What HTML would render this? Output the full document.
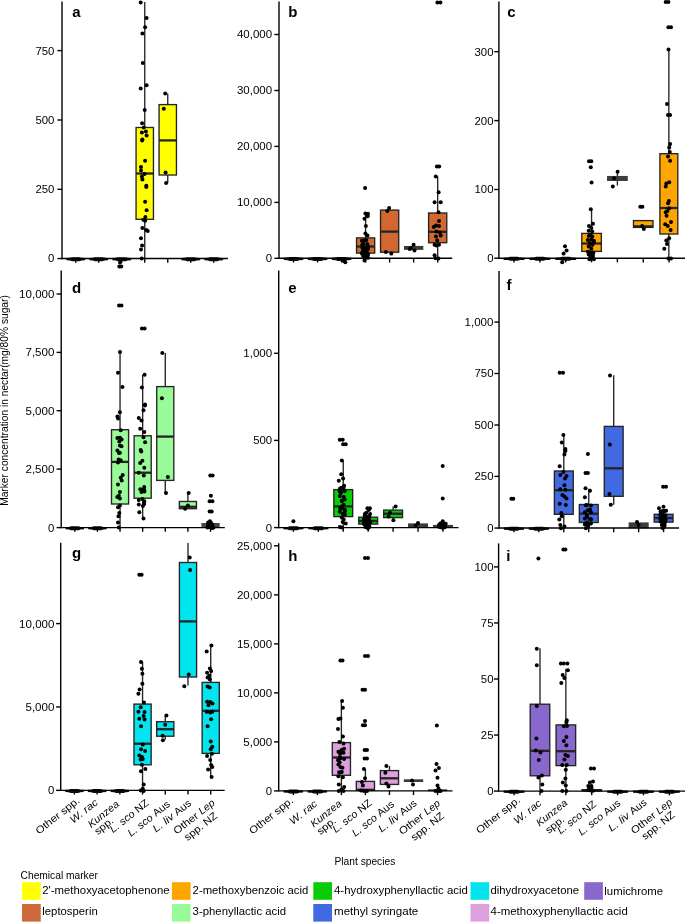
<!DOCTYPE html>
<html><head><meta charset="utf-8"><title>Chemical markers in nectar</title>
<style>html,body{margin:0;padding:0;background:#fff}svg{display:block;will-change:transform}text{font-family:"Liberation Sans",sans-serif;fill:#000}</style></head><body>
<svg width="685" height="922" viewBox="0 0 685 922">
<rect width="685" height="922" fill="#fff"/>
<line x1="144.75" x2="144.75" y1="2.1" y2="127.5" stroke="#242424" stroke-width="1.35"/>
<line x1="144.75" x2="144.75" y1="219.3" y2="258.5" stroke="#242424" stroke-width="1.35"/>
<rect x="136.06" y="127.5" width="17.39" height="91.8" fill="#FFFF00" stroke="#242424" stroke-width="1.35"/>
<line x1="136.06" x2="153.44" y1="173.5" y2="173.5" stroke="#242424" stroke-width="2.3"/>
<line x1="167.75" x2="167.75" y1="93.4" y2="104.6" stroke="#242424" stroke-width="1.35"/>
<line x1="167.75" x2="167.75" y1="175" y2="182.9" stroke="#242424" stroke-width="1.35"/>
<rect x="159.06" y="104.6" width="17.39" height="70.4" fill="#FFFF00" stroke="#242424" stroke-width="1.35"/>
<line x1="159.06" x2="176.44" y1="140.4" y2="140.4" stroke="#242424" stroke-width="2.3"/>
<polygon points="66.39,258.05 69.95,257.85 71.95,257.15 79.55,257.15 81.55,257.85 85.11,258.05 85.11,260.25 81.55,260.45 79.55,261.15 71.95,261.15 69.95,260.45 66.39,260.25" fill="#0a0a0a"/>
<polygon points="89.39,258.05 92.95,257.85 94.95,257.15 102.55,257.15 104.55,257.85 108.11,258.05 108.11,260.25 104.55,260.45 102.55,261.15 94.95,261.15 92.95,260.45 89.39,260.25" fill="#0a0a0a"/>
<polygon points="112.39,258.05 115.95,257.85 117.95,257.15 125.55,257.15 127.55,257.85 131.1,258.05 131.1,260.25 127.55,260.45 125.55,261.15 117.95,261.15 115.95,260.45 112.39,260.25" fill="#0a0a0a"/>
<polygon points="181.4,258.05 184.95,257.85 186.95,257.15 194.55,257.15 196.55,257.85 200.1,258.05 200.1,260.25 196.55,260.45 194.55,261.15 186.95,261.15 184.95,260.45 181.4,260.25" fill="#0a0a0a"/>
<polygon points="204.4,258.05 207.95,257.85 209.95,257.15 217.55,257.15 219.55,257.85 223.1,258.05 223.1,260.25 219.55,260.45 217.55,261.15 209.95,261.15 207.95,260.45 204.4,260.25" fill="#0a0a0a"/>
<line x1="62" x2="62" y1="1.5" y2="259.25" stroke="#000" stroke-width="1.4"/>
<line x1="62" x2="227.9" y1="258.55" y2="258.55" stroke="#000" stroke-width="1.4"/>
<line x1="57.4" x2="62" y1="50.6" y2="50.6" stroke="#000" stroke-width="1.4"/>
<text x="54.4" y="54.5" font-size="10.3" text-anchor="end" textLength="18.98" lengthAdjust="spacingAndGlyphs">750</text>
<line x1="57.4" x2="62" y1="120" y2="120" stroke="#000" stroke-width="1.4"/>
<text x="54.4" y="123.9" font-size="10.3" text-anchor="end" textLength="18.98" lengthAdjust="spacingAndGlyphs">500</text>
<line x1="57.4" x2="62" y1="189.3" y2="189.3" stroke="#000" stroke-width="1.4"/>
<text x="54.4" y="193.2" font-size="10.3" text-anchor="end" textLength="18.98" lengthAdjust="spacingAndGlyphs">250</text>
<line x1="57.4" x2="62" y1="258.55" y2="258.55" stroke="#000" stroke-width="1.4"/>
<text x="54.4" y="262.45" font-size="10.3" text-anchor="end" textLength="6.33" lengthAdjust="spacingAndGlyphs">0</text>
<line x1="75.75" x2="75.75" y1="258.55" y2="262.75" stroke="#000" stroke-width="1.4"/>
<line x1="98.75" x2="98.75" y1="258.55" y2="262.75" stroke="#000" stroke-width="1.4"/>
<line x1="121.75" x2="121.75" y1="258.55" y2="262.75" stroke="#000" stroke-width="1.4"/>
<line x1="144.75" x2="144.75" y1="258.55" y2="262.75" stroke="#000" stroke-width="1.4"/>
<line x1="167.75" x2="167.75" y1="258.55" y2="262.75" stroke="#000" stroke-width="1.4"/>
<line x1="190.75" x2="190.75" y1="258.55" y2="262.75" stroke="#000" stroke-width="1.4"/>
<line x1="213.75" x2="213.75" y1="258.55" y2="262.75" stroke="#000" stroke-width="1.4"/>
<circle cx="120" cy="262.6" r="2.0"/><circle cx="121.2" cy="266.4" r="2.0"/><circle cx="119.3" cy="266.4" r="2.0"/><circle cx="140.7" cy="2.6" r="2.0"/><circle cx="146.6" cy="18" r="2.0"/><circle cx="145.1" cy="27.2" r="2.0"/><circle cx="142.4" cy="33.6" r="2.0"/><circle cx="142.8" cy="63.1" r="2.0"/><circle cx="146.6" cy="85.3" r="2.0"/><circle cx="140.7" cy="88.5" r="2.0"/><circle cx="144.7" cy="110" r="2.0"/><circle cx="142.1" cy="123.2" r="2.0"/><circle cx="143.7" cy="127.4" r="2.0"/><circle cx="145.9" cy="131.4" r="2.0"/><circle cx="141.9" cy="132.6" r="2.0"/><circle cx="146.6" cy="135.4" r="2.0"/><circle cx="142.4" cy="139.6" r="2.0"/><circle cx="142.1" cy="140.5" r="2.0"/><circle cx="145.1" cy="160.8" r="2.0"/><circle cx="141" cy="167.1" r="2.0"/><circle cx="141" cy="170.6" r="2.0"/><circle cx="144.5" cy="174.1" r="2.0"/><circle cx="141.9" cy="176.6" r="2.0"/><circle cx="142.4" cy="179.6" r="2.0"/><circle cx="146.3" cy="185.7" r="2.0"/><circle cx="146.3" cy="187.1" r="2.0"/><circle cx="145.1" cy="201.8" r="2.0"/><circle cx="146.6" cy="210.2" r="2.0"/><circle cx="145.4" cy="217.1" r="2.0"/><circle cx="143.3" cy="219.7" r="2.0"/><circle cx="145.1" cy="220.7" r="2.0"/><circle cx="142.4" cy="228.1" r="2.0"/><circle cx="146.3" cy="229.9" r="2.0"/><circle cx="147.7" cy="231.1" r="2.0"/><circle cx="141" cy="238.3" r="2.0"/><circle cx="142.1" cy="245.6" r="2.0"/><circle cx="141" cy="249.5" r="2.0"/><circle cx="141.7" cy="258.4" r="2.0"/><circle cx="165.2" cy="93.4" r="2.0"/><circle cx="163.8" cy="108.8" r="2.0"/><circle cx="165.6" cy="172.6" r="2.0"/><circle cx="166.1" cy="182.9" r="2.0"/>
<text x="72.3" y="17.4" font-size="15" font-weight="bold">a</text>
<line x1="365.59" x2="365.59" y1="213.2" y2="237.9" stroke="#242424" stroke-width="1.35"/>
<line x1="365.59" x2="365.59" y1="253.1" y2="258.5" stroke="#242424" stroke-width="1.35"/>
<rect x="356.51" y="237.9" width="18.17" height="15.2" fill="#D2682F" stroke="#242424" stroke-width="1.35"/>
<line x1="356.51" x2="374.67" y1="246.5" y2="246.5" stroke="#242424" stroke-width="2.3"/>
<rect x="380.54" y="210.1" width="18.17" height="42.1" fill="#D2682F" stroke="#242424" stroke-width="1.35"/>
<line x1="380.54" x2="398.7" y1="231.6" y2="231.6" stroke="#242424" stroke-width="2.3"/>
<rect x="403.97" y="245.95" width="19.37" height="3.95" fill="#3c3c3c"/>
<line x1="437.68" x2="437.68" y1="176.4" y2="213" stroke="#242424" stroke-width="1.35"/>
<line x1="437.68" x2="437.68" y1="242.7" y2="258.5" stroke="#242424" stroke-width="1.35"/>
<rect x="428.6" y="213" width="18.17" height="29.7" fill="#D2682F" stroke="#242424" stroke-width="1.35"/>
<line x1="428.6" x2="446.76" y1="231.8" y2="231.8" stroke="#242424" stroke-width="2.3"/>
<polygon points="283.75,257.8 287.7,257.6 289.7,256.9 297.3,256.9 299.3,257.6 303.25,257.8 303.25,260 299.3,260.2 297.3,260.9 289.7,260.9 287.7,260.2 283.75,260" fill="#0a0a0a"/>
<polygon points="307.78,257.8 311.73,257.6 313.73,256.9 321.33,256.9 323.33,257.6 327.28,257.8 327.28,260 323.33,260.2 321.33,260.9 313.73,260.9 311.73,260.2 307.78,260" fill="#0a0a0a"/>
<polygon points="331.81,257.8 335.76,257.6 337.76,256.9 345.36,256.9 347.36,257.6 351.31,257.8 351.31,260 347.36,260.2 345.36,260.9 337.76,260.9 335.76,260.2 331.81,260" fill="#0a0a0a"/>
<line x1="279" x2="279" y1="1.5" y2="259" stroke="#000" stroke-width="1.4"/>
<line x1="279" x2="452.2" y1="258.3" y2="258.3" stroke="#000" stroke-width="1.4"/>
<line x1="274.4" x2="279" y1="34.5" y2="34.5" stroke="#000" stroke-width="1.4"/>
<text x="272.2" y="38.4" font-size="10.3" text-anchor="end" textLength="35.26" lengthAdjust="spacingAndGlyphs">40,000</text>
<line x1="274.4" x2="279" y1="90.5" y2="90.5" stroke="#000" stroke-width="1.4"/>
<text x="272.2" y="94.4" font-size="10.3" text-anchor="end" textLength="35.26" lengthAdjust="spacingAndGlyphs">30,000</text>
<line x1="274.4" x2="279" y1="146.4" y2="146.4" stroke="#000" stroke-width="1.4"/>
<text x="272.2" y="150.3" font-size="10.3" text-anchor="end" textLength="35.26" lengthAdjust="spacingAndGlyphs">20,000</text>
<line x1="274.4" x2="279" y1="202.4" y2="202.4" stroke="#000" stroke-width="1.4"/>
<text x="272.2" y="206.3" font-size="10.3" text-anchor="end" textLength="35.26" lengthAdjust="spacingAndGlyphs">10,000</text>
<line x1="274.4" x2="279" y1="258.3" y2="258.3" stroke="#000" stroke-width="1.4"/>
<text x="272.2" y="262.2" font-size="10.3" text-anchor="end" textLength="6.33" lengthAdjust="spacingAndGlyphs">0</text>
<line x1="293.5" x2="293.5" y1="258.3" y2="262.5" stroke="#000" stroke-width="1.4"/>
<line x1="317.53" x2="317.53" y1="258.3" y2="262.5" stroke="#000" stroke-width="1.4"/>
<line x1="341.56" x2="341.56" y1="258.3" y2="262.5" stroke="#000" stroke-width="1.4"/>
<line x1="365.59" x2="365.59" y1="258.3" y2="262.5" stroke="#000" stroke-width="1.4"/>
<line x1="389.62" x2="389.62" y1="258.3" y2="262.5" stroke="#000" stroke-width="1.4"/>
<line x1="413.65" x2="413.65" y1="258.3" y2="262.5" stroke="#000" stroke-width="1.4"/>
<line x1="437.68" x2="437.68" y1="258.3" y2="262.5" stroke="#000" stroke-width="1.4"/>
<circle cx="343.5" cy="260.8" r="2.0"/><circle cx="345.3" cy="262.3" r="2.0"/><circle cx="365.1" cy="188" r="2.0"/><circle cx="365.4" cy="213.6" r="2.0"/><circle cx="368" cy="213.7" r="2.0"/><circle cx="367.7" cy="216.2" r="2.0"/><circle cx="364.5" cy="218.8" r="2.0"/><circle cx="365.9" cy="226" r="2.0"/><circle cx="365.4" cy="233.4" r="2.0"/><circle cx="367.5" cy="235.6" r="2.0"/><circle cx="361.9" cy="240.7" r="2.0"/><circle cx="366.3" cy="240" r="2.0"/><circle cx="362.8" cy="244.8" r="2.0"/><circle cx="367.2" cy="243.9" r="2.0"/><circle cx="362.4" cy="247.7" r="2.0"/><circle cx="365.9" cy="248.3" r="2.0"/><circle cx="368" cy="249.1" r="2.0"/><circle cx="363.7" cy="250.9" r="2.0"/><circle cx="366.6" cy="251.8" r="2.0"/><circle cx="361.9" cy="253.5" r="2.0"/><circle cx="365.4" cy="254" r="2.0"/><circle cx="368" cy="254.4" r="2.0"/><circle cx="363.1" cy="256.1" r="2.0"/><circle cx="366.3" cy="256.5" r="2.0"/><circle cx="364.9" cy="258.4" r="2.0"/><circle cx="364.5" cy="260.5" r="2.0"/><circle cx="389.1" cy="208" r="2.0"/><circle cx="387.3" cy="211.1" r="2.0"/><circle cx="385.9" cy="251.9" r="2.0"/><circle cx="391.3" cy="253.5" r="2.0"/><circle cx="413.6" cy="244.8" r="2.0"/><circle cx="411" cy="248.3" r="2.0"/><circle cx="414.5" cy="250.5" r="2.0"/><circle cx="409.7" cy="249.1" r="2.0"/><circle cx="437.4" cy="2.5" r="2.0"/><circle cx="440.4" cy="2.5" r="2.0"/><circle cx="436.9" cy="166.4" r="2.0"/><circle cx="439.2" cy="166.4" r="2.0"/><circle cx="435.8" cy="176.4" r="2.0"/><circle cx="438.6" cy="192.2" r="2.0"/><circle cx="434.6" cy="202.2" r="2.0"/><circle cx="440.7" cy="202.2" r="2.0"/><circle cx="438.5" cy="212.3" r="2.0"/><circle cx="439" cy="221.1" r="2.0"/><circle cx="436" cy="225.5" r="2.0"/><circle cx="433.7" cy="226.9" r="2.0"/><circle cx="439" cy="226" r="2.0"/><circle cx="436.4" cy="231.6" r="2.0"/><circle cx="439.9" cy="232.5" r="2.0"/><circle cx="436" cy="236.5" r="2.0"/><circle cx="440.7" cy="235.6" r="2.0"/><circle cx="437.2" cy="240.4" r="2.0"/><circle cx="434.6" cy="244.8" r="2.0"/><circle cx="439" cy="244.8" r="2.0"/><circle cx="436.4" cy="245.6" r="2.0"/><circle cx="434.6" cy="255.3" r="2.0"/><circle cx="435.5" cy="258.2" r="2.0"/><circle cx="438.5" cy="258.4" r="2.0"/><circle cx="363.5" cy="249.3" r="2.0"/><circle cx="364.3" cy="240.5" r="2.0"/><circle cx="362.2" cy="245" r="2.0"/><circle cx="363.7" cy="252.5" r="2.0"/><circle cx="368.1" cy="248.1" r="2.0"/><circle cx="368" cy="257.8" r="2.0"/><circle cx="368.1" cy="246.6" r="2.0"/><circle cx="363.4" cy="244.1" r="2.0"/><circle cx="363.3" cy="243.7" r="2.0"/><circle cx="366" cy="256.2" r="2.0"/><circle cx="367.4" cy="248.6" r="2.0"/><circle cx="366.2" cy="254.4" r="2.0"/><circle cx="362.5" cy="251.9" r="2.0"/><circle cx="367.8" cy="254.1" r="2.0"/>
<text x="288.2" y="17.2" font-size="15" font-weight="bold">b</text>
<line x1="591.55" x2="591.55" y1="209.2" y2="233.4" stroke="#242424" stroke-width="1.35"/>
<line x1="591.55" x2="591.55" y1="251.4" y2="258.5" stroke="#242424" stroke-width="1.35"/>
<rect x="581.78" y="233.4" width="19.54" height="18" fill="#FFA500" stroke="#242424" stroke-width="1.35"/>
<line x1="581.78" x2="601.32" y1="243.5" y2="243.5" stroke="#242424" stroke-width="2.3"/>
<line x1="617.4" x2="617.4" y1="171.8" y2="175.95" stroke="#242424" stroke-width="1.35"/>
<line x1="617.4" x2="617.4" y1="181" y2="185.6" stroke="#242424" stroke-width="1.35"/>
<rect x="607.03" y="175.95" width="20.74" height="5.05" fill="#3c3c3c"/>
<rect x="633.48" y="220.6" width="19.54" height="6.8" fill="#FFA500" stroke="#242424" stroke-width="1.35"/>
<line x1="633.48" x2="653.02" y1="226.2" y2="226.2" stroke="#242424" stroke-width="2.0"/>
<line x1="668.85" x2="668.85" y1="49.4" y2="153.7" stroke="#242424" stroke-width="1.35"/>
<line x1="668.85" x2="668.85" y1="234" y2="258.5" stroke="#242424" stroke-width="1.35"/>
<rect x="659.9" y="153.7" width="17.9" height="80.3" fill="#FFA500" stroke="#242424" stroke-width="1.35"/>
<line x1="659.9" x2="677.8" y1="208" y2="208" stroke="#242424" stroke-width="2.3"/>
<polygon points="503.55,257.7 508.2,257.5 510.2,256.8 517.8,256.8 519.8,257.5 524.45,257.7 524.45,259.9 519.8,260.1 517.8,260.8 510.2,260.8 508.2,260.1 503.55,259.9" fill="#0a0a0a"/>
<polygon points="529.4,257.7 534.05,257.5 536.05,256.8 543.65,256.8 545.65,257.5 550.3,257.7 550.3,259.9 545.65,260.1 543.65,260.8 536.05,260.8 534.05,260.1 529.4,259.9" fill="#0a0a0a"/>
<polygon points="555.25,257.7 559.9,257.5 561.9,256.8 569.5,256.8 571.5,257.5 576.15,257.7 576.15,259.9 571.5,260.1 569.5,260.8 561.9,260.8 559.9,260.1 555.25,259.9" fill="#0a0a0a"/>
<line x1="498.9" x2="498.9" y1="1.5" y2="258.9" stroke="#000" stroke-width="1.4"/>
<line x1="498.9" x2="685" y1="258.2" y2="258.2" stroke="#000" stroke-width="1.4"/>
<line x1="494.3" x2="498.9" y1="51.7" y2="51.7" stroke="#000" stroke-width="1.4"/>
<text x="493.5" y="55.6" font-size="10.3" text-anchor="end" textLength="18.98" lengthAdjust="spacingAndGlyphs">300</text>
<line x1="494.3" x2="498.9" y1="120.6" y2="120.6" stroke="#000" stroke-width="1.4"/>
<text x="493.5" y="124.5" font-size="10.3" text-anchor="end" textLength="18.98" lengthAdjust="spacingAndGlyphs">200</text>
<line x1="494.3" x2="498.9" y1="189.5" y2="189.5" stroke="#000" stroke-width="1.4"/>
<text x="493.5" y="193.4" font-size="10.3" text-anchor="end" textLength="18.98" lengthAdjust="spacingAndGlyphs">100</text>
<line x1="494.3" x2="498.9" y1="258.2" y2="258.2" stroke="#000" stroke-width="1.4"/>
<text x="493.5" y="262.1" font-size="10.3" text-anchor="end" textLength="6.33" lengthAdjust="spacingAndGlyphs">0</text>
<line x1="514" x2="514" y1="258.2" y2="262.4" stroke="#000" stroke-width="1.4"/>
<line x1="539.85" x2="539.85" y1="258.2" y2="262.4" stroke="#000" stroke-width="1.4"/>
<line x1="565.7" x2="565.7" y1="258.2" y2="262.4" stroke="#000" stroke-width="1.4"/>
<line x1="591.55" x2="591.55" y1="258.2" y2="262.4" stroke="#000" stroke-width="1.4"/>
<line x1="617.4" x2="617.4" y1="258.2" y2="262.4" stroke="#000" stroke-width="1.4"/>
<line x1="643.25" x2="643.25" y1="258.2" y2="262.4" stroke="#000" stroke-width="1.4"/>
<line x1="669.1" x2="669.1" y1="258.2" y2="262.4" stroke="#000" stroke-width="1.4"/>
<circle cx="565" cy="246.2" r="2.0"/><circle cx="566.6" cy="250.5" r="2.0"/><circle cx="563.6" cy="253.5" r="2.0"/><circle cx="562.2" cy="262.3" r="2.0"/><circle cx="589" cy="161.2" r="2.0"/><circle cx="591.3" cy="161.2" r="2.0"/><circle cx="590.8" cy="167.3" r="2.0"/><circle cx="591.6" cy="182.4" r="2.0"/><circle cx="590.8" cy="209.2" r="2.0"/><circle cx="593" cy="223.7" r="2.0"/><circle cx="589" cy="226" r="2.0"/><circle cx="591.3" cy="228.1" r="2.0"/><circle cx="588.7" cy="230.7" r="2.0"/><circle cx="592.2" cy="231.6" r="2.0"/><circle cx="590.4" cy="234.8" r="2.0"/><circle cx="587.8" cy="240" r="2.0"/><circle cx="591.3" cy="239.5" r="2.0"/><circle cx="593.9" cy="240.7" r="2.0"/><circle cx="589.9" cy="243" r="2.0"/><circle cx="592.2" cy="244.8" r="2.0"/><circle cx="588.7" cy="246.5" r="2.0"/><circle cx="591.3" cy="248.8" r="2.0"/><circle cx="587.8" cy="251.8" r="2.0"/><circle cx="592.2" cy="252.6" r="2.0"/><circle cx="588.7" cy="254.4" r="2.0"/><circle cx="593" cy="256.1" r="2.0"/><circle cx="591.3" cy="258.4" r="2.0"/><circle cx="589.5" cy="259.3" r="2.0"/><circle cx="593.9" cy="259.3" r="2.0"/><circle cx="617.6" cy="171.7" r="2.0"/><circle cx="614.1" cy="178.2" r="2.0"/><circle cx="612.8" cy="186.4" r="2.0"/><circle cx="640.3" cy="206.7" r="2.0"/><circle cx="642.4" cy="206.7" r="2.0"/><circle cx="642.1" cy="226" r="2.0"/><circle cx="643.8" cy="229" r="2.0"/><circle cx="665.7" cy="2.1" r="2.0"/><circle cx="668.4" cy="2.1" r="2.0"/><circle cx="668.4" cy="27.2" r="2.0"/><circle cx="671" cy="27.2" r="2.0"/><circle cx="668.5" cy="49.4" r="2.0"/><circle cx="667" cy="104.1" r="2.0"/><circle cx="668" cy="115.1" r="2.0"/><circle cx="670.1" cy="115.1" r="2.0"/><circle cx="670.1" cy="144" r="2.0"/><circle cx="669.2" cy="147.5" r="2.0"/><circle cx="669.8" cy="151.9" r="2.0"/><circle cx="668" cy="156.6" r="2.0"/><circle cx="670.1" cy="160.7" r="2.0"/><circle cx="669.2" cy="182.2" r="2.0"/><circle cx="666.3" cy="183.4" r="2.0"/><circle cx="665.7" cy="186.4" r="2.0"/><circle cx="668.9" cy="201" r="2.0"/><circle cx="668" cy="203.2" r="2.0"/><circle cx="669.2" cy="208.3" r="2.0"/><circle cx="667.5" cy="210.9" r="2.0"/><circle cx="665.7" cy="212.3" r="2.0"/><circle cx="666.6" cy="215.8" r="2.0"/><circle cx="671" cy="222" r="2.0"/><circle cx="665.2" cy="224.3" r="2.0"/><circle cx="667.8" cy="226" r="2.0"/><circle cx="670.6" cy="229.9" r="2.0"/><circle cx="669.2" cy="238.3" r="2.0"/><circle cx="666.3" cy="240.4" r="2.0"/><circle cx="667" cy="243.9" r="2.0"/><circle cx="664.3" cy="248.8" r="2.0"/><circle cx="668.4" cy="258.4" r="2.0"/><circle cx="671" cy="258.4" r="2.0"/><circle cx="592.5" cy="244.4" r="2.0"/><circle cx="589.1" cy="252.5" r="2.0"/><circle cx="590" cy="252.8" r="2.0"/><circle cx="593.8" cy="242.3" r="2.0"/><circle cx="590.4" cy="256.6" r="2.0"/><circle cx="592.3" cy="236.4" r="2.0"/><circle cx="588.8" cy="235.9" r="2.0"/><circle cx="593.4" cy="253" r="2.0"/>
<text x="507.2" y="17.4" font-size="15" font-weight="bold">c</text>
<line x1="120.04" x2="120.04" y1="351.9" y2="429.7" stroke="#242424" stroke-width="1.35"/>
<line x1="120.04" x2="120.04" y1="504" y2="527.6" stroke="#242424" stroke-width="1.35"/>
<rect x="111.49" y="429.7" width="17.1" height="74.3" fill="#98FB98" stroke="#242424" stroke-width="1.35"/>
<line x1="111.49" x2="128.59" y1="461.9" y2="461.9" stroke="#242424" stroke-width="2.3"/>
<line x1="142.66" x2="142.66" y1="374.7" y2="435.8" stroke="#242424" stroke-width="1.35"/>
<line x1="142.66" x2="142.66" y1="498.2" y2="518.4" stroke="#242424" stroke-width="1.35"/>
<rect x="134.11" y="435.8" width="17.1" height="62.4" fill="#98FB98" stroke="#242424" stroke-width="1.35"/>
<line x1="134.11" x2="151.21" y1="472.7" y2="472.7" stroke="#242424" stroke-width="2.3"/>
<line x1="165.28" x2="165.28" y1="352.9" y2="386.6" stroke="#242424" stroke-width="1.35"/>
<line x1="165.28" x2="165.28" y1="480.4" y2="492.9" stroke="#242424" stroke-width="1.35"/>
<rect x="156.73" y="386.6" width="17.1" height="93.8" fill="#98FB98" stroke="#242424" stroke-width="1.35"/>
<line x1="156.73" x2="173.83" y1="436.6" y2="436.6" stroke="#242424" stroke-width="2.3"/>
<line x1="187.9" x2="187.9" y1="492.9" y2="501.5" stroke="#242424" stroke-width="1.35"/>
<rect x="179.35" y="501.5" width="17.1" height="7.2" fill="#98FB98" stroke="#242424" stroke-width="1.35"/>
<line x1="179.35" x2="196.45" y1="506.8" y2="506.8" stroke="#242424" stroke-width="2.3"/>
<rect x="201.37" y="523" width="18.3" height="4.8" fill="#474747"/>
<polygon points="65.59,527.1 69,526.9 71,526.2 78.6,526.2 80.6,526.9 84.01,527.1 84.01,529.3 80.6,529.5 78.6,530.2 71,530.2 69,529.5 65.59,529.3" fill="#0a0a0a"/>
<polygon points="88.21,527.1 91.62,526.9 93.62,526.2 101.22,526.2 103.22,526.9 106.63,527.1 106.63,529.3 103.22,529.5 101.22,530.2 93.62,530.2 91.62,529.5 88.21,529.3" fill="#0a0a0a"/>
<line x1="61.2" x2="61.2" y1="270.6" y2="528.3" stroke="#000" stroke-width="1.4"/>
<line x1="61.2" x2="224.8" y1="527.6" y2="527.6" stroke="#000" stroke-width="1.4"/>
<line x1="56.6" x2="61.2" y1="294" y2="294" stroke="#000" stroke-width="1.4"/>
<text x="54.4" y="297.9" font-size="10.3" text-anchor="end" textLength="35.26" lengthAdjust="spacingAndGlyphs">10,000</text>
<line x1="56.6" x2="61.2" y1="352.4" y2="352.4" stroke="#000" stroke-width="1.4"/>
<text x="54.4" y="356.3" font-size="10.3" text-anchor="end" textLength="28.93" lengthAdjust="spacingAndGlyphs">7,500</text>
<line x1="56.6" x2="61.2" y1="410.7" y2="410.7" stroke="#000" stroke-width="1.4"/>
<text x="54.4" y="414.6" font-size="10.3" text-anchor="end" textLength="28.93" lengthAdjust="spacingAndGlyphs">5,000</text>
<line x1="56.6" x2="61.2" y1="469.1" y2="469.1" stroke="#000" stroke-width="1.4"/>
<text x="54.4" y="473" font-size="10.3" text-anchor="end" textLength="28.93" lengthAdjust="spacingAndGlyphs">2,500</text>
<line x1="56.6" x2="61.2" y1="527.6" y2="527.6" stroke="#000" stroke-width="1.4"/>
<text x="54.4" y="531.5" font-size="10.3" text-anchor="end" textLength="6.33" lengthAdjust="spacingAndGlyphs">0</text>
<line x1="74.8" x2="74.8" y1="527.6" y2="531.8" stroke="#000" stroke-width="1.4"/>
<line x1="97.42" x2="97.42" y1="527.6" y2="531.8" stroke="#000" stroke-width="1.4"/>
<line x1="120.04" x2="120.04" y1="527.6" y2="531.8" stroke="#000" stroke-width="1.4"/>
<line x1="142.66" x2="142.66" y1="527.6" y2="531.8" stroke="#000" stroke-width="1.4"/>
<line x1="165.28" x2="165.28" y1="527.6" y2="531.8" stroke="#000" stroke-width="1.4"/>
<line x1="187.9" x2="187.9" y1="527.6" y2="531.8" stroke="#000" stroke-width="1.4"/>
<line x1="210.52" x2="210.52" y1="527.6" y2="531.8" stroke="#000" stroke-width="1.4"/>
<circle cx="119" cy="305.5" r="2.0"/><circle cx="121.5" cy="305.5" r="2.0"/><circle cx="120" cy="351.9" r="2.0"/><circle cx="118" cy="372.7" r="2.0"/><circle cx="122.5" cy="387" r="2.0"/><circle cx="119.9" cy="412.2" r="2.0"/><circle cx="117.4" cy="416.6" r="2.0"/><circle cx="118" cy="418.6" r="2.0"/><circle cx="120.7" cy="430.2" r="2.0"/><circle cx="117.4" cy="438" r="2.0"/><circle cx="121.6" cy="439.4" r="2.0"/><circle cx="119.3" cy="441.6" r="2.0"/><circle cx="117.4" cy="450.5" r="2.0"/><circle cx="119.9" cy="452.7" r="2.0"/><circle cx="120.7" cy="460.2" r="2.0"/><circle cx="118" cy="462.4" r="2.0"/><circle cx="122.7" cy="474.9" r="2.0"/><circle cx="120.7" cy="477.7" r="2.0"/><circle cx="118" cy="484.6" r="2.0"/><circle cx="119.9" cy="492.1" r="2.0"/><circle cx="118.8" cy="495.7" r="2.0"/><circle cx="119.9" cy="505.4" r="2.0"/><circle cx="118" cy="507.3" r="2.0"/><circle cx="119.3" cy="512.9" r="2.0"/><circle cx="118.5" cy="516.2" r="2.0"/><circle cx="118" cy="522.6" r="2.0"/><circle cx="118.8" cy="527.5" r="2.0"/><circle cx="141.9" cy="328.4" r="2.0"/><circle cx="144.6" cy="328.4" r="2.0"/><circle cx="144.6" cy="374.7" r="2.0"/><circle cx="141.9" cy="387.6" r="2.0"/><circle cx="145" cy="404.6" r="2.0"/><circle cx="144.9" cy="405.5" r="2.0"/><circle cx="143.5" cy="410.3" r="2.0"/><circle cx="138.8" cy="418" r="2.0"/><circle cx="141.5" cy="420.5" r="2.0"/><circle cx="140.2" cy="428.8" r="2.0"/><circle cx="144.3" cy="431.9" r="2.0"/><circle cx="143.5" cy="437.2" r="2.0"/><circle cx="145.1" cy="442.2" r="2.0"/><circle cx="140.7" cy="449.9" r="2.0"/><circle cx="142.4" cy="460.7" r="2.0"/><circle cx="140.2" cy="463" r="2.0"/><circle cx="144.3" cy="467.7" r="2.0"/><circle cx="138.8" cy="472.7" r="2.0"/><circle cx="143.8" cy="475.4" r="2.0"/><circle cx="144.3" cy="490.1" r="2.0"/><circle cx="141.5" cy="492.1" r="2.0"/><circle cx="142.4" cy="499" r="2.0"/><circle cx="138.8" cy="499.9" r="2.0"/><circle cx="144.3" cy="501.2" r="2.0"/><circle cx="138.8" cy="504.6" r="2.0"/><circle cx="142.9" cy="506" r="2.0"/><circle cx="139.3" cy="512.3" r="2.0"/><circle cx="143.5" cy="518.4" r="2.0"/><circle cx="162.3" cy="353.1" r="2.0"/><circle cx="161.9" cy="398.3" r="2.0"/><circle cx="167.9" cy="477.1" r="2.0"/><circle cx="166" cy="492.9" r="2.0"/><circle cx="188.7" cy="492.9" r="2.0"/><circle cx="187.9" cy="505.4" r="2.0"/><circle cx="185.1" cy="508.7" r="2.0"/><circle cx="210.3" cy="475.4" r="2.0"/><circle cx="212.6" cy="475.4" r="2.0"/><circle cx="210.9" cy="495.7" r="2.0"/><circle cx="209.6" cy="501.2" r="2.0"/><circle cx="212.4" cy="501.2" r="2.0"/><circle cx="209.6" cy="511.5" r="2.0"/><circle cx="211.7" cy="511.5" r="2.0"/><circle cx="210" cy="521.2" r="2.0"/><circle cx="208.1" cy="524" r="2.0"/><circle cx="212.3" cy="524.5" r="2.0"/><circle cx="209.5" cy="526.8" r="2.0"/><circle cx="207.5" cy="527.5" r="2.0"/><circle cx="213.5" cy="527.5" r="2.0"/><circle cx="211" cy="527.5" r="2.0"/><circle cx="208.3" cy="524.2" r="2.0"/><circle cx="207.8" cy="527.2" r="2.0"/><circle cx="211.1" cy="522.9" r="2.0"/><circle cx="209.1" cy="524.1" r="2.0"/><circle cx="209.7" cy="522.7" r="2.0"/><circle cx="212.5" cy="528" r="2.0"/><circle cx="210.3" cy="524.9" r="2.0"/><circle cx="208.2" cy="522.6" r="2.0"/><circle cx="119" cy="452.9" r="2.0"/><circle cx="121.5" cy="446.3" r="2.0"/><circle cx="117.3" cy="496.9" r="2.0"/><circle cx="119.9" cy="445.4" r="2.0"/><circle cx="120" cy="437.7" r="2.0"/><circle cx="119.9" cy="498.6" r="2.0"/><circle cx="121.7" cy="480.6" r="2.0"/><circle cx="118.6" cy="459.5" r="2.0"/><circle cx="140.3" cy="489.3" r="2.0"/><circle cx="142.5" cy="489.8" r="2.0"/><circle cx="141.3" cy="451.4" r="2.0"/><circle cx="144.2" cy="504" r="2.0"/><circle cx="144.4" cy="491.6" r="2.0"/><circle cx="144.2" cy="487.1" r="2.0"/>
<text x="72" y="292.6" font-size="15" font-weight="bold">d</text>
<line x1="343.26" x2="343.26" y1="460.5" y2="489.6" stroke="#242424" stroke-width="1.35"/>
<line x1="343.26" x2="343.26" y1="516.6" y2="527.6" stroke="#242424" stroke-width="1.35"/>
<rect x="333.84" y="489.6" width="18.85" height="27" fill="#08CC08" stroke="#242424" stroke-width="1.35"/>
<line x1="333.84" x2="352.68" y1="506.4" y2="506.4" stroke="#242424" stroke-width="2.3"/>
<rect x="358.77" y="517.2" width="18.85" height="6.9" fill="#08CC08" stroke="#242424" stroke-width="1.35"/>
<line x1="358.77" x2="377.61" y1="521" y2="521" stroke="#242424" stroke-width="2.3"/>
<line x1="393.12" x2="393.12" y1="506.4" y2="510.1" stroke="#242424" stroke-width="1.35"/>
<line x1="393.12" x2="393.12" y1="517.6" y2="520.2" stroke="#242424" stroke-width="1.35"/>
<rect x="383.7" y="510.1" width="18.85" height="7.5" fill="#08CC08" stroke="#242424" stroke-width="1.35"/>
<line x1="383.7" x2="402.54" y1="513.7" y2="513.7" stroke="#242424" stroke-width="2.3"/>
<rect x="408.03" y="523.4" width="20.05" height="4.2" fill="#3c3c3c"/>
<rect x="432.96" y="524.9" width="20.05" height="2.9" fill="#3c3c3c"/>
<polygon points="283.3,527.1 287.6,526.9 289.6,526.2 297.2,526.2 299.2,526.9 303.5,527.1 303.5,529.3 299.2,529.5 297.2,530.2 289.6,530.2 287.6,529.5 283.3,529.3" fill="#0a0a0a"/>
<polygon points="308.23,527.1 312.53,526.9 314.53,526.2 322.13,526.2 324.13,526.9 328.43,527.1 328.43,529.3 324.13,529.5 322.13,530.2 314.53,530.2 312.53,529.5 308.23,529.3" fill="#0a0a0a"/>
<line x1="278.7" x2="278.7" y1="270.6" y2="528.3" stroke="#000" stroke-width="1.4"/>
<line x1="278.7" x2="458.5" y1="527.6" y2="527.6" stroke="#000" stroke-width="1.4"/>
<line x1="274.1" x2="278.7" y1="353.3" y2="353.3" stroke="#000" stroke-width="1.4"/>
<text x="272.2" y="357.2" font-size="10.3" text-anchor="end" textLength="28.93" lengthAdjust="spacingAndGlyphs">1,000</text>
<line x1="274.1" x2="278.7" y1="440.4" y2="440.4" stroke="#000" stroke-width="1.4"/>
<text x="272.2" y="444.3" font-size="10.3" text-anchor="end" textLength="18.98" lengthAdjust="spacingAndGlyphs">500</text>
<line x1="274.1" x2="278.7" y1="527.6" y2="527.6" stroke="#000" stroke-width="1.4"/>
<text x="272.2" y="531.5" font-size="10.3" text-anchor="end" textLength="6.33" lengthAdjust="spacingAndGlyphs">0</text>
<line x1="293.4" x2="293.4" y1="527.6" y2="531.8" stroke="#000" stroke-width="1.4"/>
<line x1="318.33" x2="318.33" y1="527.6" y2="531.8" stroke="#000" stroke-width="1.4"/>
<line x1="343.26" x2="343.26" y1="527.6" y2="531.8" stroke="#000" stroke-width="1.4"/>
<line x1="368.19" x2="368.19" y1="527.6" y2="531.8" stroke="#000" stroke-width="1.4"/>
<line x1="393.12" x2="393.12" y1="527.6" y2="531.8" stroke="#000" stroke-width="1.4"/>
<line x1="418.05" x2="418.05" y1="527.6" y2="531.8" stroke="#000" stroke-width="1.4"/>
<line x1="442.98" x2="442.98" y1="527.6" y2="531.8" stroke="#000" stroke-width="1.4"/>
<circle cx="293.4" cy="521.3" r="2.0"/><circle cx="339.8" cy="439.8" r="2.0"/><circle cx="342.7" cy="439.8" r="2.0"/><circle cx="343.1" cy="444.3" r="2.0"/><circle cx="345.7" cy="444.3" r="2.0"/><circle cx="341.8" cy="460.5" r="2.0"/><circle cx="341.2" cy="474.3" r="2.0"/><circle cx="343.1" cy="478.6" r="2.0"/><circle cx="338.8" cy="480.8" r="2.0"/><circle cx="344.1" cy="485.7" r="2.0"/><circle cx="341.8" cy="487.7" r="2.0"/><circle cx="344.7" cy="491" r="2.0"/><circle cx="340.8" cy="493" r="2.0"/><circle cx="339.8" cy="495.9" r="2.0"/><circle cx="343.7" cy="496.9" r="2.0"/><circle cx="341.8" cy="500.9" r="2.0"/><circle cx="344.7" cy="499.5" r="2.0"/><circle cx="343.7" cy="504.8" r="2.0"/><circle cx="340.8" cy="507.8" r="2.0"/><circle cx="344.7" cy="509.7" r="2.0"/><circle cx="339.8" cy="511.7" r="2.0"/><circle cx="342.7" cy="513.7" r="2.0"/><circle cx="341.8" cy="517.6" r="2.0"/><circle cx="343.7" cy="519.6" r="2.0"/><circle cx="342.7" cy="522" r="2.0"/><circle cx="345.7" cy="523.5" r="2.0"/><circle cx="339.8" cy="527.1" r="2.0"/><circle cx="341.8" cy="527.5" r="2.0"/><circle cx="367.4" cy="508.2" r="2.0"/><circle cx="369.9" cy="508.2" r="2.0"/><circle cx="368.8" cy="510.1" r="2.0"/><circle cx="366.4" cy="512.7" r="2.0"/><circle cx="365.4" cy="515.7" r="2.0"/><circle cx="367.4" cy="517.6" r="2.0"/><circle cx="364.4" cy="519.6" r="2.0"/><circle cx="369.3" cy="520.6" r="2.0"/><circle cx="366.4" cy="522" r="2.0"/><circle cx="370.3" cy="522.6" r="2.0"/><circle cx="364.4" cy="523.5" r="2.0"/><circle cx="367.4" cy="524.5" r="2.0"/><circle cx="369.3" cy="525.9" r="2.0"/><circle cx="365.4" cy="527.1" r="2.0"/><circle cx="368" cy="527.9" r="2.0"/><circle cx="395.6" cy="506.4" r="2.0"/><circle cx="390" cy="512.7" r="2.0"/><circle cx="388.5" cy="516.6" r="2.0"/><circle cx="393.4" cy="520.2" r="2.0"/><circle cx="418" cy="523.1" r="2.0"/><circle cx="415.7" cy="525.5" r="2.0"/><circle cx="442.7" cy="466" r="2.0"/><circle cx="442.7" cy="498.5" r="2.0"/><circle cx="442.7" cy="521.2" r="2.0"/><circle cx="440.3" cy="523.5" r="2.0"/><circle cx="444.2" cy="524.1" r="2.0"/><circle cx="441.3" cy="525.9" r="2.0"/><circle cx="445.2" cy="526.5" r="2.0"/><circle cx="439.3" cy="527.1" r="2.0"/><circle cx="443.2" cy="527.5" r="2.0"/><circle cx="365.4" cy="521.2" r="2.0"/><circle cx="367.2" cy="526" r="2.0"/><circle cx="368.5" cy="516.6" r="2.0"/><circle cx="370.1" cy="513.9" r="2.0"/><circle cx="366.5" cy="524.1" r="2.0"/><circle cx="364.8" cy="519.8" r="2.0"/><circle cx="364.1" cy="522.7" r="2.0"/><circle cx="368.7" cy="521.2" r="2.0"/><circle cx="369.4" cy="517" r="2.0"/><circle cx="368.2" cy="521.5" r="2.0"/><circle cx="367.5" cy="519.3" r="2.0"/><circle cx="369.2" cy="527.1" r="2.0"/><circle cx="366.8" cy="522.6" r="2.0"/><circle cx="364.2" cy="523.2" r="2.0"/><circle cx="367.9" cy="527.9" r="2.0"/><circle cx="369.1" cy="516.6" r="2.0"/><circle cx="366.3" cy="522.7" r="2.0"/><circle cx="363.9" cy="519.4" r="2.0"/><circle cx="364.9" cy="513.9" r="2.0"/><circle cx="364.2" cy="524.3" r="2.0"/><circle cx="364.6" cy="516" r="2.0"/><circle cx="366.3" cy="525.9" r="2.0"/><circle cx="439.6" cy="525.2" r="2.0"/><circle cx="442.8" cy="527.4" r="2.0"/><circle cx="444.7" cy="527.3" r="2.0"/><circle cx="440.9" cy="525.1" r="2.0"/><circle cx="441.5" cy="527.4" r="2.0"/><circle cx="445.7" cy="523.8" r="2.0"/><circle cx="440.2" cy="524.2" r="2.0"/><circle cx="440.6" cy="525.4" r="2.0"/><circle cx="443.1" cy="524.3" r="2.0"/><circle cx="439" cy="525.1" r="2.0"/><circle cx="341.8" cy="506.4" r="2.0"/><circle cx="345" cy="510.9" r="2.0"/><circle cx="342.6" cy="508.2" r="2.0"/><circle cx="343.5" cy="487.9" r="2.0"/><circle cx="344.7" cy="514.1" r="2.0"/><circle cx="344.6" cy="514.7" r="2.0"/><circle cx="341.9" cy="500.4" r="2.0"/><circle cx="340.3" cy="508.8" r="2.0"/><circle cx="340" cy="488.4" r="2.0"/><circle cx="340.9" cy="491.8" r="2.0"/><circle cx="341.6" cy="487.9" r="2.0"/><circle cx="339.7" cy="491.4" r="2.0"/>
<text x="288.2" y="292.6" font-size="15" font-weight="bold">e</text>
<line x1="563.8" x2="563.8" y1="435" y2="471" stroke="#242424" stroke-width="1.35"/>
<line x1="563.8" x2="563.8" y1="514.3" y2="527.6" stroke="#242424" stroke-width="1.35"/>
<rect x="554.37" y="471" width="18.86" height="43.3" fill="#4169E1" stroke="#242424" stroke-width="1.35"/>
<line x1="554.37" x2="573.23" y1="490.2" y2="490.2" stroke="#242424" stroke-width="2.3"/>
<line x1="588.75" x2="588.75" y1="488.8" y2="504.5" stroke="#242424" stroke-width="1.35"/>
<line x1="588.75" x2="588.75" y1="522.5" y2="527.6" stroke="#242424" stroke-width="1.35"/>
<rect x="579.32" y="504.5" width="18.86" height="18" fill="#4169E1" stroke="#242424" stroke-width="1.35"/>
<line x1="579.32" x2="598.18" y1="513.7" y2="513.7" stroke="#242424" stroke-width="2.3"/>
<line x1="613.7" x2="613.7" y1="375.3" y2="426.4" stroke="#242424" stroke-width="1.35"/>
<line x1="613.7" x2="613.7" y1="496.3" y2="504.7" stroke="#242424" stroke-width="1.35"/>
<rect x="604.27" y="426.4" width="18.86" height="69.9" fill="#4169E1" stroke="#242424" stroke-width="1.35"/>
<line x1="604.27" x2="623.13" y1="468.3" y2="468.3" stroke="#242424" stroke-width="2.3"/>
<rect x="628.62" y="522.4" width="20.06" height="5.8" fill="#3c3c3c"/>
<line x1="663.6" x2="663.6" y1="510" y2="514.3" stroke="#242424" stroke-width="1.35"/>
<line x1="663.6" x2="663.6" y1="522.1" y2="527.6" stroke="#242424" stroke-width="1.35"/>
<rect x="654.17" y="514.3" width="18.86" height="7.8" fill="#4169E1" stroke="#242424" stroke-width="1.35"/>
<line x1="654.17" x2="673.03" y1="518" y2="518" stroke="#242424" stroke-width="2.3"/>
<polygon points="503.79,527.55 508.1,527.35 510.1,526.65 517.7,526.65 519.7,527.35 524.01,527.55 524.01,529.75 519.7,529.95 517.7,530.65 510.1,530.65 508.1,529.95 503.79,529.75" fill="#0a0a0a"/>
<polygon points="528.74,527.55 533.05,527.35 535.05,526.65 542.65,526.65 544.65,527.35 548.96,527.55 548.96,529.75 544.65,529.95 542.65,530.65 535.05,530.65 533.05,529.95 528.74,529.75" fill="#0a0a0a"/>
<line x1="499.05" x2="499.05" y1="270.9" y2="528.75" stroke="#000" stroke-width="1.4"/>
<line x1="499.05" x2="679.1" y1="528.05" y2="528.05" stroke="#000" stroke-width="1.4"/>
<line x1="494.45" x2="499.05" y1="322.1" y2="322.1" stroke="#000" stroke-width="1.4"/>
<text x="493.5" y="326" font-size="10.3" text-anchor="end" textLength="28.93" lengthAdjust="spacingAndGlyphs">1,000</text>
<line x1="494.45" x2="499.05" y1="373.5" y2="373.5" stroke="#000" stroke-width="1.4"/>
<text x="493.5" y="377.4" font-size="10.3" text-anchor="end" textLength="18.98" lengthAdjust="spacingAndGlyphs">750</text>
<line x1="494.45" x2="499.05" y1="425" y2="425" stroke="#000" stroke-width="1.4"/>
<text x="493.5" y="428.9" font-size="10.3" text-anchor="end" textLength="18.98" lengthAdjust="spacingAndGlyphs">500</text>
<line x1="494.45" x2="499.05" y1="476.4" y2="476.4" stroke="#000" stroke-width="1.4"/>
<text x="493.5" y="480.3" font-size="10.3" text-anchor="end" textLength="18.98" lengthAdjust="spacingAndGlyphs">250</text>
<line x1="494.45" x2="499.05" y1="528.05" y2="528.05" stroke="#000" stroke-width="1.4"/>
<text x="493.5" y="531.95" font-size="10.3" text-anchor="end" textLength="6.33" lengthAdjust="spacingAndGlyphs">0</text>
<line x1="513.9" x2="513.9" y1="528.05" y2="532.25" stroke="#000" stroke-width="1.4"/>
<line x1="538.85" x2="538.85" y1="528.05" y2="532.25" stroke="#000" stroke-width="1.4"/>
<line x1="563.8" x2="563.8" y1="528.05" y2="532.25" stroke="#000" stroke-width="1.4"/>
<line x1="588.75" x2="588.75" y1="528.05" y2="532.25" stroke="#000" stroke-width="1.4"/>
<line x1="613.7" x2="613.7" y1="528.05" y2="532.25" stroke="#000" stroke-width="1.4"/>
<line x1="638.65" x2="638.65" y1="528.05" y2="532.25" stroke="#000" stroke-width="1.4"/>
<line x1="663.6" x2="663.6" y1="528.05" y2="532.25" stroke="#000" stroke-width="1.4"/>
<circle cx="511.4" cy="498.7" r="2.0"/><circle cx="513.3" cy="498.7" r="2.0"/><circle cx="559.7" cy="372.7" r="2.0"/><circle cx="563" cy="372.7" r="2.0"/><circle cx="563.4" cy="435" r="2.0"/><circle cx="561.8" cy="442.4" r="2.0"/><circle cx="565.4" cy="448.9" r="2.0"/><circle cx="565.4" cy="450.9" r="2.0"/><circle cx="564.4" cy="454.4" r="2.0"/><circle cx="559.7" cy="466.3" r="2.0"/><circle cx="563.4" cy="472" r="2.0"/><circle cx="560.3" cy="474.9" r="2.0"/><circle cx="566.5" cy="476.1" r="2.0"/><circle cx="565" cy="478.5" r="2.0"/><circle cx="564.4" cy="485.3" r="2.0"/><circle cx="560.3" cy="489.2" r="2.0"/><circle cx="565.4" cy="489.8" r="2.0"/><circle cx="562.4" cy="494.9" r="2.0"/><circle cx="564.4" cy="496.5" r="2.0"/><circle cx="566.5" cy="498.6" r="2.0"/><circle cx="559.7" cy="503.7" r="2.0"/><circle cx="565.8" cy="505.1" r="2.0"/><circle cx="561.3" cy="512.9" r="2.0"/><circle cx="561.8" cy="516.3" r="2.0"/><circle cx="559.3" cy="519.4" r="2.0"/><circle cx="560.3" cy="525.1" r="2.0"/><circle cx="564.4" cy="526.6" r="2.0"/><circle cx="560.9" cy="528.2" r="2.0"/><circle cx="587.9" cy="454" r="2.0"/><circle cx="585.5" cy="473" r="2.0"/><circle cx="587.9" cy="473" r="2.0"/><circle cx="585.5" cy="488.3" r="2.0"/><circle cx="590" cy="490.8" r="2.0"/><circle cx="584.9" cy="497.3" r="2.0"/><circle cx="586.9" cy="505.1" r="2.0"/><circle cx="591" cy="505.5" r="2.0"/><circle cx="587.9" cy="510.2" r="2.0"/><circle cx="584.9" cy="512.3" r="2.0"/><circle cx="591" cy="512.3" r="2.0"/><circle cx="586.9" cy="515.3" r="2.0"/><circle cx="584.9" cy="518.4" r="2.0"/><circle cx="590" cy="519.4" r="2.0"/><circle cx="586.9" cy="522.5" r="2.0"/><circle cx="591" cy="523.5" r="2.0"/><circle cx="584.9" cy="524.5" r="2.0"/><circle cx="587.9" cy="526.6" r="2.0"/><circle cx="585.9" cy="528.2" r="2.0"/><circle cx="610" cy="375.5" r="2.0"/><circle cx="609.8" cy="444.4" r="2.0"/><circle cx="609.4" cy="493.9" r="2.0"/><circle cx="610.8" cy="504.7" r="2.0"/><circle cx="637" cy="522.1" r="2.0"/><circle cx="638.6" cy="525.1" r="2.0"/><circle cx="663.1" cy="486.7" r="2.0"/><circle cx="666" cy="486.7" r="2.0"/><circle cx="663.5" cy="506.7" r="2.0"/><circle cx="659" cy="508.2" r="2.0"/><circle cx="662.5" cy="511.2" r="2.0"/><circle cx="660.5" cy="515.3" r="2.0"/><circle cx="664.6" cy="515.7" r="2.0"/><circle cx="661.5" cy="518.4" r="2.0"/><circle cx="665.6" cy="519.4" r="2.0"/><circle cx="660.5" cy="521.5" r="2.0"/><circle cx="663.5" cy="522.5" r="2.0"/><circle cx="661.9" cy="525.1" r="2.0"/><circle cx="664.6" cy="525.5" r="2.0"/><circle cx="662.5" cy="528" r="2.0"/><circle cx="662.1" cy="512.7" r="2.0"/><circle cx="664.1" cy="511.3" r="2.0"/><circle cx="663.4" cy="516.6" r="2.0"/><circle cx="660.5" cy="519.1" r="2.0"/><circle cx="660.4" cy="517.8" r="2.0"/><circle cx="660.6" cy="511.6" r="2.0"/><circle cx="662.7" cy="524.9" r="2.0"/><circle cx="660.9" cy="514" r="2.0"/><circle cx="664" cy="527.1" r="2.0"/><circle cx="663.7" cy="517.1" r="2.0"/><circle cx="666.1" cy="510.8" r="2.0"/><circle cx="665.4" cy="515.2" r="2.0"/><circle cx="661.1" cy="512.1" r="2.0"/><circle cx="662.1" cy="524.7" r="2.0"/><circle cx="661.3" cy="520.5" r="2.0"/><circle cx="664" cy="516.7" r="2.0"/><circle cx="663.5" cy="511.1" r="2.0"/><circle cx="660.6" cy="513.7" r="2.0"/><circle cx="664.3" cy="517.7" r="2.0"/><circle cx="662.1" cy="520.5" r="2.0"/><circle cx="662.9" cy="515.4" r="2.0"/><circle cx="665" cy="522.6" r="2.0"/><circle cx="585.9" cy="523.2" r="2.0"/><circle cx="590.9" cy="519.5" r="2.0"/><circle cx="587.1" cy="517.1" r="2.0"/><circle cx="585.8" cy="505.3" r="2.0"/><circle cx="590.8" cy="519.3" r="2.0"/><circle cx="588.2" cy="525.5" r="2.0"/><circle cx="587.6" cy="524.2" r="2.0"/><circle cx="590" cy="509.6" r="2.0"/>
<text x="506.6" y="289.6" font-size="15" font-weight="bold">f</text>
<line x1="142.56" x2="142.56" y1="661.7" y2="704.1" stroke="#242424" stroke-width="1.35"/>
<line x1="142.56" x2="142.56" y1="764.8" y2="790.35" stroke="#242424" stroke-width="1.35"/>
<rect x="133.97" y="704.1" width="17.18" height="60.7" fill="#00E5EE" stroke="#242424" stroke-width="1.35"/>
<line x1="133.97" x2="151.15" y1="743.7" y2="743.7" stroke="#242424" stroke-width="2.3"/>
<line x1="165.28" x2="165.28" y1="715.7" y2="721.7" stroke="#242424" stroke-width="1.35"/>
<line x1="165.28" x2="165.28" y1="736.2" y2="739.7" stroke="#242424" stroke-width="1.35"/>
<rect x="156.69" y="721.7" width="17.18" height="14.5" fill="#00E5EE" stroke="#242424" stroke-width="1.35"/>
<line x1="156.69" x2="173.87" y1="729.2" y2="729.2" stroke="#242424" stroke-width="2.3"/>
<line x1="188" x2="188" y1="542.9" y2="562.5" stroke="#242424" stroke-width="1.35"/>
<line x1="188" x2="188" y1="677" y2="685.4" stroke="#242424" stroke-width="1.35"/>
<rect x="179.41" y="562.5" width="17.18" height="114.5" fill="#00E5EE" stroke="#242424" stroke-width="1.35"/>
<line x1="179.41" x2="196.59" y1="621.4" y2="621.4" stroke="#242424" stroke-width="2.3"/>
<line x1="210.72" x2="210.72" y1="645.4" y2="682.4" stroke="#242424" stroke-width="1.35"/>
<line x1="210.72" x2="210.72" y1="753.4" y2="777.4" stroke="#242424" stroke-width="1.35"/>
<rect x="202.13" y="682.4" width="17.18" height="71" fill="#00E5EE" stroke="#242424" stroke-width="1.35"/>
<line x1="202.13" x2="219.31" y1="710.8" y2="710.8" stroke="#242424" stroke-width="2.3"/>
<polygon points="65.15,789.85 68.6,789.65 70.6,788.95 78.2,788.95 80.2,789.65 83.65,789.85 83.65,792.05 80.2,792.25 78.2,792.95 70.6,792.95 68.6,792.25 65.15,792.05" fill="#0a0a0a"/>
<polygon points="87.87,789.85 91.32,789.65 93.32,788.95 100.92,788.95 102.92,789.65 106.37,789.85 106.37,792.05 102.92,792.25 100.92,792.95 93.32,792.95 91.32,792.25 87.87,792.05" fill="#0a0a0a"/>
<polygon points="110.59,789.85 114.04,789.65 116.04,788.95 123.64,788.95 125.64,789.65 129.09,789.85 129.09,792.05 125.64,792.25 123.64,792.95 116.04,792.95 114.04,792.25 110.59,792.05" fill="#0a0a0a"/>
<line x1="60.7" x2="60.7" y1="542.8" y2="791.05" stroke="#000" stroke-width="1.4"/>
<line x1="60.7" x2="224.7" y1="790.35" y2="790.35" stroke="#000" stroke-width="1.4"/>
<line x1="56.1" x2="60.7" y1="623.6" y2="623.6" stroke="#000" stroke-width="1.4"/>
<text x="54.4" y="627.5" font-size="10.3" text-anchor="end" textLength="35.26" lengthAdjust="spacingAndGlyphs">10,000</text>
<line x1="56.1" x2="60.7" y1="706.95" y2="706.95" stroke="#000" stroke-width="1.4"/>
<text x="54.4" y="710.85" font-size="10.3" text-anchor="end" textLength="28.93" lengthAdjust="spacingAndGlyphs">5,000</text>
<line x1="56.1" x2="60.7" y1="790.35" y2="790.35" stroke="#000" stroke-width="1.4"/>
<text x="54.4" y="794.25" font-size="10.3" text-anchor="end" textLength="6.33" lengthAdjust="spacingAndGlyphs">0</text>
<line x1="74.4" x2="74.4" y1="790.35" y2="794.55" stroke="#000" stroke-width="1.4"/>
<line x1="97.12" x2="97.12" y1="790.35" y2="794.55" stroke="#000" stroke-width="1.4"/>
<line x1="119.84" x2="119.84" y1="790.35" y2="794.55" stroke="#000" stroke-width="1.4"/>
<line x1="142.56" x2="142.56" y1="790.35" y2="794.55" stroke="#000" stroke-width="1.4"/>
<line x1="165.28" x2="165.28" y1="790.35" y2="794.55" stroke="#000" stroke-width="1.4"/>
<line x1="188" x2="188" y1="790.35" y2="794.55" stroke="#000" stroke-width="1.4"/>
<line x1="210.72" x2="210.72" y1="790.35" y2="794.55" stroke="#000" stroke-width="1.4"/>
<circle cx="139.3" cy="574.8" r="2.0"/><circle cx="141.6" cy="574.8" r="2.0"/><circle cx="141" cy="662.1" r="2.0"/><circle cx="141.9" cy="668.8" r="2.0"/><circle cx="142.4" cy="673.7" r="2.0"/><circle cx="142.4" cy="683.7" r="2.0"/><circle cx="139.6" cy="689.4" r="2.0"/><circle cx="138.4" cy="693.8" r="2.0"/><circle cx="144" cy="702.6" r="2.0"/><circle cx="140.7" cy="707.3" r="2.0"/><circle cx="138.4" cy="711.7" r="2.0"/><circle cx="144.5" cy="712" r="2.0"/><circle cx="143.7" cy="716.1" r="2.0"/><circle cx="139.3" cy="718.7" r="2.0"/><circle cx="144.5" cy="719.6" r="2.0"/><circle cx="141" cy="726.2" r="2.0"/><circle cx="142.8" cy="744.6" r="2.0"/><circle cx="141" cy="749.3" r="2.0"/><circle cx="145.1" cy="751.1" r="2.0"/><circle cx="139.3" cy="755.5" r="2.0"/><circle cx="141.9" cy="756.9" r="2.0"/><circle cx="140.7" cy="759.5" r="2.0"/><circle cx="142.8" cy="759" r="2.0"/><circle cx="141.9" cy="764.8" r="2.0"/><circle cx="145.4" cy="769.1" r="2.0"/><circle cx="141" cy="771.2" r="2.0"/><circle cx="143.7" cy="784.4" r="2.0"/><circle cx="142.8" cy="788.8" r="2.0"/><circle cx="140.7" cy="790.5" r="2.0"/><circle cx="143.7" cy="790.9" r="2.0"/><circle cx="166.4" cy="715.5" r="2.0"/><circle cx="165.2" cy="724.8" r="2.0"/><circle cx="162.6" cy="735.7" r="2.0"/><circle cx="162.9" cy="740.2" r="2.0"/><circle cx="189.7" cy="557.4" r="2.0"/><circle cx="190.1" cy="570" r="2.0"/><circle cx="188.7" cy="674.4" r="2.0"/><circle cx="184.3" cy="686.3" r="2.0"/><circle cx="211.4" cy="645.4" r="2.0"/><circle cx="206.7" cy="651.5" r="2.0"/><circle cx="209.9" cy="668.4" r="2.0"/><circle cx="211.1" cy="670.9" r="2.0"/><circle cx="207.1" cy="672.8" r="2.0"/><circle cx="209.3" cy="675.8" r="2.0"/><circle cx="207.6" cy="677.5" r="2.0"/><circle cx="209.9" cy="679.6" r="2.0"/><circle cx="207.6" cy="686.6" r="2.0"/><circle cx="209.7" cy="687.5" r="2.0"/><circle cx="207.1" cy="701.7" r="2.0"/><circle cx="210.2" cy="702" r="2.0"/><circle cx="212.5" cy="703.4" r="2.0"/><circle cx="208.5" cy="705.2" r="2.0"/><circle cx="206.7" cy="711.7" r="2.0"/><circle cx="210.2" cy="712.6" r="2.0"/><circle cx="212.3" cy="711.7" r="2.0"/><circle cx="211.1" cy="719.2" r="2.0"/><circle cx="207.6" cy="726.2" r="2.0"/><circle cx="210.7" cy="741.5" r="2.0"/><circle cx="212.3" cy="746.7" r="2.0"/><circle cx="210.7" cy="749.3" r="2.0"/><circle cx="212" cy="753.7" r="2.0"/><circle cx="207.1" cy="756" r="2.0"/><circle cx="210.2" cy="759.9" r="2.0"/><circle cx="211.1" cy="765.1" r="2.0"/><circle cx="212.3" cy="766.9" r="2.0"/><circle cx="208.1" cy="769.5" r="2.0"/><circle cx="211.6" cy="777" r="2.0"/>
<text x="72" y="558.2" font-size="15" font-weight="bold">g</text>
<line x1="341.38" x2="341.38" y1="700.7" y2="742.6" stroke="#242424" stroke-width="1.35"/>
<line x1="341.38" x2="341.38" y1="775.3" y2="790.35" stroke="#242424" stroke-width="1.35"/>
<rect x="332.29" y="742.6" width="18.17" height="32.7" fill="#DDA0DD" stroke="#242424" stroke-width="1.35"/>
<line x1="332.29" x2="350.47" y1="757.5" y2="757.5" stroke="#242424" stroke-width="2.3"/>
<line x1="365.42" x2="365.42" y1="769.1" y2="781.4" stroke="#242424" stroke-width="1.35"/>
<rect x="356.33" y="781.4" width="18.17" height="8.95" fill="#DDA0DD" stroke="#242424" stroke-width="1.35"/>
<line x1="356.33" x2="374.51" y1="789.8" y2="789.8" stroke="#242424" stroke-width="2.3"/>
<line x1="389.46" x2="389.46" y1="766" y2="770.6" stroke="#242424" stroke-width="1.35"/>
<line x1="389.46" x2="389.46" y1="784.4" y2="786.9" stroke="#242424" stroke-width="1.35"/>
<rect x="380.37" y="770.6" width="18.17" height="13.8" fill="#DDA0DD" stroke="#242424" stroke-width="1.35"/>
<line x1="380.37" x2="398.55" y1="778.3" y2="778.3" stroke="#242424" stroke-width="2.3"/>
<rect x="403.81" y="779.3" width="19.37" height="2.7" fill="#3c3c3c"/>
<rect x="427.85" y="789.4" width="19.37" height="1.8" fill="#222"/>
<polygon points="283.54,790.4 287.5,790.2 289.5,789.5 297.1,789.5 299.1,790.2 303.06,790.4 303.06,792.6 299.1,792.8 297.1,793.5 289.5,793.5 287.5,792.8 283.54,792.6" fill="#0a0a0a"/>
<polygon points="307.58,790.4 311.54,790.2 313.54,789.5 321.14,789.5 323.14,790.2 327.1,790.4 327.1,792.6 323.14,792.8 321.14,793.5 313.54,793.5 311.54,792.8 307.58,792.6" fill="#0a0a0a"/>
<line x1="278.7" x2="278.7" y1="543.2" y2="791.6" stroke="#000" stroke-width="1.4"/>
<line x1="278.7" x2="452.5" y1="790.9" y2="790.9" stroke="#000" stroke-width="1.4"/>
<line x1="274.1" x2="278.7" y1="545.8" y2="545.8" stroke="#000" stroke-width="1.4"/>
<text x="272.2" y="549.7" font-size="10.3" text-anchor="end" textLength="35.26" lengthAdjust="spacingAndGlyphs">25,000</text>
<line x1="274.1" x2="278.7" y1="594.85" y2="594.85" stroke="#000" stroke-width="1.4"/>
<text x="272.2" y="598.75" font-size="10.3" text-anchor="end" textLength="35.26" lengthAdjust="spacingAndGlyphs">20,000</text>
<line x1="274.1" x2="278.7" y1="643.9" y2="643.9" stroke="#000" stroke-width="1.4"/>
<text x="272.2" y="647.8" font-size="10.3" text-anchor="end" textLength="35.26" lengthAdjust="spacingAndGlyphs">15,000</text>
<line x1="274.1" x2="278.7" y1="692.9" y2="692.9" stroke="#000" stroke-width="1.4"/>
<text x="272.2" y="696.8" font-size="10.3" text-anchor="end" textLength="35.26" lengthAdjust="spacingAndGlyphs">10,000</text>
<line x1="274.1" x2="278.7" y1="741.9" y2="741.9" stroke="#000" stroke-width="1.4"/>
<text x="272.2" y="745.8" font-size="10.3" text-anchor="end" textLength="28.93" lengthAdjust="spacingAndGlyphs">5,000</text>
<line x1="274.1" x2="278.7" y1="790.9" y2="790.9" stroke="#000" stroke-width="1.4"/>
<text x="272.2" y="794.8" font-size="10.3" text-anchor="end" textLength="6.33" lengthAdjust="spacingAndGlyphs">0</text>
<line x1="293.3" x2="293.3" y1="790.9" y2="795.1" stroke="#000" stroke-width="1.4"/>
<line x1="317.34" x2="317.34" y1="790.9" y2="795.1" stroke="#000" stroke-width="1.4"/>
<line x1="341.38" x2="341.38" y1="790.9" y2="795.1" stroke="#000" stroke-width="1.4"/>
<line x1="365.42" x2="365.42" y1="790.9" y2="795.1" stroke="#000" stroke-width="1.4"/>
<line x1="389.46" x2="389.46" y1="790.9" y2="795.1" stroke="#000" stroke-width="1.4"/>
<line x1="413.5" x2="413.5" y1="790.9" y2="795.1" stroke="#000" stroke-width="1.4"/>
<line x1="437.54" x2="437.54" y1="790.9" y2="795.1" stroke="#000" stroke-width="1.4"/>
<circle cx="340.4" cy="660.6" r="2.0"/><circle cx="342.5" cy="660.6" r="2.0"/><circle cx="342.1" cy="701.1" r="2.0"/><circle cx="342.9" cy="707.8" r="2.0"/><circle cx="340.4" cy="718.6" r="2.0"/><circle cx="338.4" cy="719" r="2.0"/><circle cx="338" cy="728.9" r="2.0"/><circle cx="342.9" cy="736.4" r="2.0"/><circle cx="339.4" cy="741.9" r="2.0"/><circle cx="343.5" cy="743.6" r="2.0"/><circle cx="344.1" cy="748.7" r="2.0"/><circle cx="341.5" cy="750.1" r="2.0"/><circle cx="338.4" cy="751.7" r="2.0"/><circle cx="343.5" cy="752.8" r="2.0"/><circle cx="340.4" cy="753.4" r="2.0"/><circle cx="338" cy="759.9" r="2.0"/><circle cx="344.1" cy="758.9" r="2.0"/><circle cx="338.4" cy="764.4" r="2.0"/><circle cx="340.4" cy="767.1" r="2.0"/><circle cx="342.5" cy="767.7" r="2.0"/><circle cx="340.4" cy="772.6" r="2.0"/><circle cx="338.4" cy="776.3" r="2.0"/><circle cx="342.9" cy="777.3" r="2.0"/><circle cx="338.8" cy="784.4" r="2.0"/><circle cx="344.1" cy="786.9" r="2.0"/><circle cx="341.5" cy="789.6" r="2.0"/><circle cx="338.8" cy="791" r="2.0"/><circle cx="343.5" cy="791" r="2.0"/><circle cx="365" cy="558" r="2.0"/><circle cx="368" cy="558" r="2.0"/><circle cx="365" cy="656.1" r="2.0"/><circle cx="368" cy="656.1" r="2.0"/><circle cx="362.5" cy="689.8" r="2.0"/><circle cx="365" cy="689.8" r="2.0"/><circle cx="365" cy="721.1" r="2.0"/><circle cx="362.9" cy="725.2" r="2.0"/><circle cx="365" cy="725.2" r="2.0"/><circle cx="364.6" cy="750.1" r="2.0"/><circle cx="367" cy="750.1" r="2.0"/><circle cx="364.6" cy="758.5" r="2.0"/><circle cx="367" cy="758.5" r="2.0"/><circle cx="363.9" cy="769.1" r="2.0"/><circle cx="365" cy="778.3" r="2.0"/><circle cx="361.9" cy="782" r="2.0"/><circle cx="362.9" cy="785.5" r="2.0"/><circle cx="360.9" cy="790.6" r="2.0"/><circle cx="363.9" cy="791" r="2.0"/><circle cx="367" cy="791" r="2.0"/><circle cx="386.4" cy="766" r="2.0"/><circle cx="385.4" cy="772.8" r="2.0"/><circle cx="386.4" cy="783.4" r="2.0"/><circle cx="388.5" cy="786.5" r="2.0"/><circle cx="412" cy="780.4" r="2.0"/><circle cx="413" cy="784.4" r="2.0"/><circle cx="436.9" cy="725.6" r="2.0"/><circle cx="436.5" cy="764" r="2.0"/><circle cx="438.9" cy="768.1" r="2.0"/><circle cx="435.5" cy="770.6" r="2.0"/><circle cx="437.5" cy="777.7" r="2.0"/><circle cx="437.5" cy="785.5" r="2.0"/><circle cx="438.5" cy="788.5" r="2.0"/><circle cx="435.5" cy="791" r="2.0"/><circle cx="438.5" cy="791" r="2.0"/><circle cx="440.5" cy="791" r="2.0"/><circle cx="339.8" cy="753.1" r="2.0"/><circle cx="339.7" cy="762.2" r="2.0"/><circle cx="339.9" cy="757" r="2.0"/><circle cx="339.1" cy="772.2" r="2.0"/><circle cx="340.4" cy="758.2" r="2.0"/><circle cx="341.8" cy="772" r="2.0"/>
<text x="288.2" y="560.8" font-size="15" font-weight="bold">h</text>
<line x1="539.98" x2="539.98" y1="648.3" y2="704.2" stroke="#242424" stroke-width="1.35"/>
<line x1="539.98" x2="539.98" y1="775.8" y2="790.35" stroke="#242424" stroke-width="1.35"/>
<rect x="530.2" y="704.2" width="19.57" height="71.6" fill="#8968CD" stroke="#242424" stroke-width="1.35"/>
<line x1="530.2" x2="549.76" y1="750.8" y2="750.8" stroke="#242424" stroke-width="2.3"/>
<line x1="565.86" x2="565.86" y1="668.7" y2="724.9" stroke="#242424" stroke-width="1.35"/>
<line x1="565.86" x2="565.86" y1="765.6" y2="790.35" stroke="#242424" stroke-width="1.35"/>
<rect x="556.08" y="724.9" width="19.57" height="40.7" fill="#8968CD" stroke="#242424" stroke-width="1.35"/>
<line x1="556.08" x2="575.64" y1="751.2" y2="751.2" stroke="#242424" stroke-width="2.3"/>
<rect x="581.36" y="789" width="20.77" height="2.6" fill="#222"/>
<polygon points="503.64,790.6 508.3,790.4 510.3,789.7 517.9,789.7 519.9,790.4 524.56,790.6 524.56,792.8 519.9,793 517.9,793.7 510.3,793.7 508.3,793 503.64,792.8" fill="#0a0a0a"/>
<polygon points="607.16,790.6 611.82,790.4 613.82,789.7 621.42,789.7 623.42,790.4 628.08,790.6 628.08,792.8 623.42,793 621.42,793.7 613.82,793.7 611.82,793 607.16,792.8" fill="#0a0a0a"/>
<polygon points="633.04,790.6 637.7,790.4 639.7,789.7 647.3,789.7 649.3,790.4 653.96,790.6 653.96,792.8 649.3,793 647.3,793.7 639.7,793.7 637.7,793 633.04,792.8" fill="#0a0a0a"/>
<polygon points="658.92,790.6 663.58,790.4 665.58,789.7 673.18,789.7 675.18,790.4 679.84,790.6 679.84,792.8 675.18,793 673.18,793.7 665.58,793.7 663.58,793 658.92,792.8" fill="#0a0a0a"/>
<line x1="498.6" x2="498.6" y1="543.4" y2="791.8" stroke="#000" stroke-width="1.4"/>
<line x1="498.6" x2="685" y1="791.1" y2="791.1" stroke="#000" stroke-width="1.4"/>
<line x1="494" x2="498.6" y1="566.9" y2="566.9" stroke="#000" stroke-width="1.4"/>
<text x="493.5" y="570.8" font-size="10.3" text-anchor="end" textLength="18.98" lengthAdjust="spacingAndGlyphs">100</text>
<line x1="494" x2="498.6" y1="622.95" y2="622.95" stroke="#000" stroke-width="1.4"/>
<text x="493.5" y="626.85" font-size="10.3" text-anchor="end" textLength="12.66" lengthAdjust="spacingAndGlyphs">75</text>
<line x1="494" x2="498.6" y1="679" y2="679" stroke="#000" stroke-width="1.4"/>
<text x="493.5" y="682.9" font-size="10.3" text-anchor="end" textLength="12.66" lengthAdjust="spacingAndGlyphs">50</text>
<line x1="494" x2="498.6" y1="735.05" y2="735.05" stroke="#000" stroke-width="1.4"/>
<text x="493.5" y="738.95" font-size="10.3" text-anchor="end" textLength="12.66" lengthAdjust="spacingAndGlyphs">25</text>
<line x1="494" x2="498.6" y1="791.1" y2="791.1" stroke="#000" stroke-width="1.4"/>
<text x="493.5" y="795" font-size="10.3" text-anchor="end" textLength="6.33" lengthAdjust="spacingAndGlyphs">0</text>
<line x1="514.1" x2="514.1" y1="791.1" y2="795.3" stroke="#000" stroke-width="1.4"/>
<line x1="539.98" x2="539.98" y1="791.1" y2="795.3" stroke="#000" stroke-width="1.4"/>
<line x1="565.86" x2="565.86" y1="791.1" y2="795.3" stroke="#000" stroke-width="1.4"/>
<line x1="591.74" x2="591.74" y1="791.1" y2="795.3" stroke="#000" stroke-width="1.4"/>
<line x1="617.62" x2="617.62" y1="791.1" y2="795.3" stroke="#000" stroke-width="1.4"/>
<line x1="643.5" x2="643.5" y1="791.1" y2="795.3" stroke="#000" stroke-width="1.4"/>
<line x1="669.38" x2="669.38" y1="791.1" y2="795.3" stroke="#000" stroke-width="1.4"/>
<circle cx="538.4" cy="558.4" r="2.0"/><circle cx="536.8" cy="648.7" r="2.0"/><circle cx="536.8" cy="665.3" r="2.0"/><circle cx="536.8" cy="705.9" r="2.0"/><circle cx="536.4" cy="738.6" r="2.0"/><circle cx="535.8" cy="750.4" r="2.0"/><circle cx="540.5" cy="752.5" r="2.0"/><circle cx="538.8" cy="760" r="2.0"/><circle cx="541.9" cy="775.4" r="2.0"/><circle cx="538.4" cy="777.4" r="2.0"/><circle cx="542.3" cy="784.6" r="2.0"/><circle cx="541.5" cy="791" r="2.0"/><circle cx="563.4" cy="549.6" r="2.0"/><circle cx="565.4" cy="549.6" r="2.0"/><circle cx="560.9" cy="663.6" r="2.0"/><circle cx="563.8" cy="663.6" r="2.0"/><circle cx="567.4" cy="663.6" r="2.0"/><circle cx="567.9" cy="670.2" r="2.0"/><circle cx="562.7" cy="674.9" r="2.0"/><circle cx="564.4" cy="678" r="2.0"/><circle cx="561.3" cy="683" r="2.0"/><circle cx="566.8" cy="720.2" r="2.0"/><circle cx="566.4" cy="722.2" r="2.0"/><circle cx="563.8" cy="726.3" r="2.0"/><circle cx="567" cy="725.9" r="2.0"/><circle cx="566.4" cy="736.9" r="2.0"/><circle cx="563.8" cy="741" r="2.0"/><circle cx="566.4" cy="745.3" r="2.0"/><circle cx="565.4" cy="754.9" r="2.0"/><circle cx="567.9" cy="755.9" r="2.0"/><circle cx="564.4" cy="759.4" r="2.0"/><circle cx="562.3" cy="765.1" r="2.0"/><circle cx="566.8" cy="765.1" r="2.0"/><circle cx="565.8" cy="769.8" r="2.0"/><circle cx="565.4" cy="778.4" r="2.0"/><circle cx="562.9" cy="782.5" r="2.0"/><circle cx="565.8" cy="785.6" r="2.0"/><circle cx="562.3" cy="791" r="2.0"/><circle cx="566.4" cy="791" r="2.0"/><circle cx="590.9" cy="768.6" r="2.0"/><circle cx="594" cy="768.6" r="2.0"/><circle cx="593" cy="781.5" r="2.0"/><circle cx="589.9" cy="782.5" r="2.0"/><circle cx="588.3" cy="786" r="2.0"/><circle cx="591.4" cy="787.6" r="2.0"/><circle cx="588.9" cy="790.1" r="2.0"/><circle cx="593" cy="790.7" r="2.0"/><circle cx="590.8" cy="790.6" r="2.0"/><circle cx="591.3" cy="788.7" r="2.0"/><circle cx="591.4" cy="786.1" r="2.0"/><circle cx="590.9" cy="786.9" r="2.0"/><circle cx="588.3" cy="790" r="2.0"/><circle cx="589.3" cy="788.4" r="2.0"/>
<text x="506.2" y="560.8" font-size="15" font-weight="bold">i</text>
<g transform="translate(80.4,801.8) rotate(-38.5)">
<text x="-52.93" y="0" font-size="10.3" textLength="52.93" lengthAdjust="spacingAndGlyphs" xml:space="preserve">Other&#160;spp.</text>
</g>
<g transform="translate(98.62,803.6) rotate(-38.5)">
<text x="-32.38" y="0" font-size="10.3" font-style="italic" textLength="32.38" lengthAdjust="spacingAndGlyphs" xml:space="preserve">W.&#160;rac</text>
</g>
<g transform="translate(119.89,805.35) rotate(-38.5)">
<text x="-36.63" y="0" font-size="10.3" font-style="italic" textLength="36.63" lengthAdjust="spacingAndGlyphs" xml:space="preserve">Kunzea</text>
</g>
<g transform="translate(114.24,822) rotate(-38.5)">
<text x="-21.2" y="0" font-size="10.3" textLength="21.2" lengthAdjust="spacingAndGlyphs" xml:space="preserve">spp.</text>
</g>
<g transform="translate(149.56,804.15) rotate(-38.5)">
<text x="-46.83" y="0" font-size="10.3" font-style="italic" textLength="29.07" lengthAdjust="spacingAndGlyphs" xml:space="preserve">L.&#160;sco</text>
<text x="-17.76" y="0" font-size="10.3" textLength="17.76" lengthAdjust="spacingAndGlyphs" xml:space="preserve">&#160;NZ</text>
</g>
<g transform="translate(170.78,805.35) rotate(-38.5)">
<text x="-50.86" y="0" font-size="10.3" font-style="italic" textLength="29.07" lengthAdjust="spacingAndGlyphs" xml:space="preserve">L.&#160;sco</text>
<text x="-21.79" y="0" font-size="10.3" textLength="21.79" lengthAdjust="spacingAndGlyphs" xml:space="preserve">&#160;Aus</text>
</g>
<g transform="translate(191.9,804.35) rotate(-38.5)">
<text x="-45.8" y="0" font-size="10.3" font-style="italic" textLength="24.01" lengthAdjust="spacingAndGlyphs" xml:space="preserve">L.&#160;liv</text>
<text x="-21.79" y="0" font-size="10.3" textLength="21.79" lengthAdjust="spacingAndGlyphs" xml:space="preserve">&#160;Aus</text>
</g>
<g transform="translate(215.52,804.1) rotate(-38.5)">
<text x="-49.4" y="0" font-size="10.3" textLength="31.73" lengthAdjust="spacingAndGlyphs" xml:space="preserve">Other&#160;</text>
<text x="-17.67" y="0" font-size="10.3" font-style="italic" textLength="17.67" lengthAdjust="spacingAndGlyphs" xml:space="preserve">Lep</text>
</g>
<g transform="translate(218.02,817) rotate(-38.5)">
<text x="-38.96" y="0" font-size="10.3" textLength="38.96" lengthAdjust="spacingAndGlyphs" xml:space="preserve">spp.&#160;NZ</text>
</g>
<g transform="translate(294,801.8) rotate(-38.5)">
<text x="-52.93" y="0" font-size="10.3" textLength="52.93" lengthAdjust="spacingAndGlyphs" xml:space="preserve">Other&#160;spp.</text>
</g>
<g transform="translate(318.04,804.9) rotate(-38.5)">
<text x="-32.38" y="0" font-size="10.3" font-style="italic" textLength="32.38" lengthAdjust="spacingAndGlyphs" xml:space="preserve">W.&#160;rac</text>
</g>
<g transform="translate(342.43,804.85) rotate(-38.5)">
<text x="-36.63" y="0" font-size="10.3" font-style="italic" textLength="36.63" lengthAdjust="spacingAndGlyphs" xml:space="preserve">Kunzea</text>
</g>
<g transform="translate(336.78,822) rotate(-38.5)">
<text x="-21.2" y="0" font-size="10.3" textLength="21.2" lengthAdjust="spacingAndGlyphs" xml:space="preserve">spp.</text>
</g>
<g transform="translate(372.42,804.15) rotate(-38.5)">
<text x="-46.83" y="0" font-size="10.3" font-style="italic" textLength="29.07" lengthAdjust="spacingAndGlyphs" xml:space="preserve">L.&#160;sco</text>
<text x="-17.76" y="0" font-size="10.3" textLength="17.76" lengthAdjust="spacingAndGlyphs" xml:space="preserve">&#160;NZ</text>
</g>
<g transform="translate(394.96,805.35) rotate(-38.5)">
<text x="-50.86" y="0" font-size="10.3" font-style="italic" textLength="29.07" lengthAdjust="spacingAndGlyphs" xml:space="preserve">L.&#160;sco</text>
<text x="-21.79" y="0" font-size="10.3" textLength="21.79" lengthAdjust="spacingAndGlyphs" xml:space="preserve">&#160;Aus</text>
</g>
<g transform="translate(417.4,804.35) rotate(-38.5)">
<text x="-45.8" y="0" font-size="10.3" font-style="italic" textLength="24.01" lengthAdjust="spacingAndGlyphs" xml:space="preserve">L.&#160;liv</text>
<text x="-21.79" y="0" font-size="10.3" textLength="21.79" lengthAdjust="spacingAndGlyphs" xml:space="preserve">&#160;Aus</text>
</g>
<g transform="translate(440.84,804.6) rotate(-38.5)">
<text x="-49.4" y="0" font-size="10.3" textLength="31.73" lengthAdjust="spacingAndGlyphs" xml:space="preserve">Other&#160;</text>
<text x="-17.67" y="0" font-size="10.3" font-style="italic" textLength="17.67" lengthAdjust="spacingAndGlyphs" xml:space="preserve">Lep</text>
</g>
<g transform="translate(444.84,817) rotate(-38.5)">
<text x="-38.96" y="0" font-size="10.3" textLength="38.96" lengthAdjust="spacingAndGlyphs" xml:space="preserve">spp.&#160;NZ</text>
</g>
<g transform="translate(520.9,801.3) rotate(-38.5)">
<text x="-52.93" y="0" font-size="10.3" textLength="52.93" lengthAdjust="spacingAndGlyphs" xml:space="preserve">Other&#160;spp.</text>
</g>
<g transform="translate(542.28,804.4) rotate(-38.5)">
<text x="-32.38" y="0" font-size="10.3" font-style="italic" textLength="32.38" lengthAdjust="spacingAndGlyphs" xml:space="preserve">W.&#160;rac</text>
</g>
<g transform="translate(568.11,804.05) rotate(-38.5)">
<text x="-36.63" y="0" font-size="10.3" font-style="italic" textLength="36.63" lengthAdjust="spacingAndGlyphs" xml:space="preserve">Kunzea</text>
</g>
<g transform="translate(565.26,820.7) rotate(-38.5)">
<text x="-21.2" y="0" font-size="10.3" textLength="21.2" lengthAdjust="spacingAndGlyphs" xml:space="preserve">spp.</text>
</g>
<g transform="translate(597.14,805.35) rotate(-38.5)">
<text x="-46.83" y="0" font-size="10.3" font-style="italic" textLength="29.07" lengthAdjust="spacingAndGlyphs" xml:space="preserve">L.&#160;sco</text>
<text x="-17.76" y="0" font-size="10.3" textLength="17.76" lengthAdjust="spacingAndGlyphs" xml:space="preserve">&#160;NZ</text>
</g>
<g transform="translate(621.32,804.25) rotate(-38.5)">
<text x="-50.86" y="0" font-size="10.3" font-style="italic" textLength="29.07" lengthAdjust="spacingAndGlyphs" xml:space="preserve">L.&#160;sco</text>
<text x="-21.79" y="0" font-size="10.3" textLength="21.79" lengthAdjust="spacingAndGlyphs" xml:space="preserve">&#160;Aus</text>
</g>
<g transform="translate(647.4,803.55) rotate(-38.5)">
<text x="-45.8" y="0" font-size="10.3" font-style="italic" textLength="24.01" lengthAdjust="spacingAndGlyphs" xml:space="preserve">L.&#160;liv</text>
<text x="-21.79" y="0" font-size="10.3" textLength="21.79" lengthAdjust="spacingAndGlyphs" xml:space="preserve">&#160;Aus</text>
</g>
<g transform="translate(672.98,803.7) rotate(-38.5)">
<text x="-49.4" y="0" font-size="10.3" textLength="31.73" lengthAdjust="spacingAndGlyphs" xml:space="preserve">Other&#160;</text>
<text x="-17.67" y="0" font-size="10.3" font-style="italic" textLength="17.67" lengthAdjust="spacingAndGlyphs" xml:space="preserve">Lep</text>
</g>
<g transform="translate(675.58,815.9) rotate(-38.5)">
<text x="-38.96" y="0" font-size="10.3" textLength="38.96" lengthAdjust="spacingAndGlyphs" xml:space="preserve">spp.&#160;NZ</text>
</g>
<text transform="translate(8.4,400.5) rotate(-90)" text-anchor="middle" font-size="10.22">Marker concentration in nectar(mg/80% sugar)</text>
<text x="334.5" y="864.7" font-size="10.22">Plant species</text>
<text x="20.6" y="878.7" font-size="10.22">Chemical marker</text>
<rect x="22.05" y="882.2" width="18.7" height="17.6" fill="#FFFF00"/>
<text x="42.3" y="894" font-size="10.3"  textLength="127.22" lengthAdjust="spacingAndGlyphs">2'-methoxyacetophenone</text>
<rect x="22.05" y="904" width="18.7" height="17.6" fill="#CD6839"/>
<text x="42.3" y="915" font-size="10.3"  textLength="55.4" lengthAdjust="spacingAndGlyphs">leptosperin</text>
<rect x="171.9" y="882.2" width="18.7" height="17.6" fill="#FFA500"/>
<text x="192.6" y="894.16" font-size="10.3"  textLength="115.69" lengthAdjust="spacingAndGlyphs">2-methoxybenzoic acid</text>
<rect x="171.9" y="904" width="18.7" height="17.6" fill="#98FB98"/>
<text x="192.6" y="915.16" font-size="10.3"  textLength="93.5" lengthAdjust="spacingAndGlyphs">3-phenyllactic acid</text>
<rect x="313.3" y="882.2" width="18.7" height="17.6" fill="#08CC08"/>
<text x="334" y="894.31" font-size="10.3"  textLength="133.96" lengthAdjust="spacingAndGlyphs">4-hydroxyphenyllactic acid</text>
<rect x="313.3" y="904" width="18.7" height="17.6" fill="#4169E1"/>
<text x="334" y="915.31" font-size="10.3"  textLength="84.33" lengthAdjust="spacingAndGlyphs">methyl syringate</text>
<rect x="470.5" y="882.2" width="18.7" height="17.6" fill="#00E5EE"/>
<text x="490.4" y="894.48" font-size="10.3"  textLength="88.66" lengthAdjust="spacingAndGlyphs">dihydroxyacetone</text>
<rect x="470.5" y="904" width="18.7" height="17.6" fill="#DDA0DD"/>
<text x="490.6" y="915.48" font-size="10.3"  textLength="137.15" lengthAdjust="spacingAndGlyphs">4-methoxyphenyllactic acid</text>
<rect x="584.2" y="882.2" width="18.7" height="17.6" fill="#8968CD"/>
<text x="604.3" y="894.6" font-size="10.3"  textLength="58.81" lengthAdjust="spacingAndGlyphs">lumichrome</text>
</svg></body></html>
